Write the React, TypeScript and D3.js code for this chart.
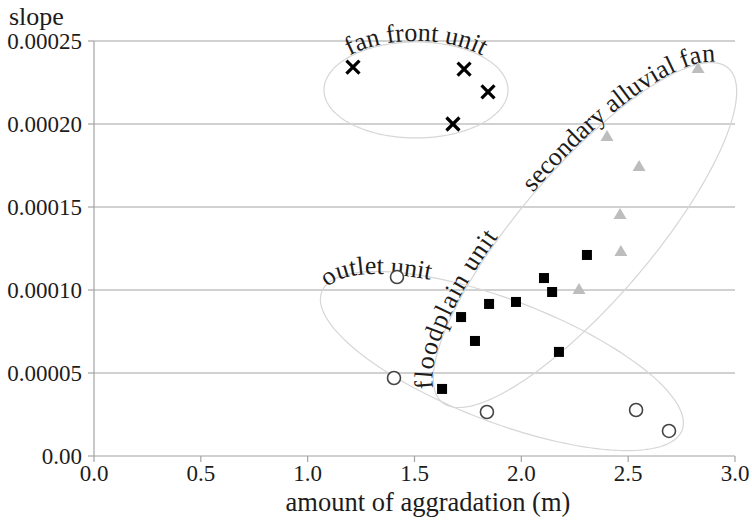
import React from "react";
import * as d3 from "d3";

// Axis ticks
const xTicks = [0, 0.5, 1.0, 1.5, 2.0, 2.5, 3.0];
const yTicks = [0, 0.00005, 0.0001, 0.00015, 0.0002, 0.00025];

// fan front unit (crosses)
const fanFrontX = [1.212, 1.732, 1.844, 1.68];
const fanFrontY = [0.0002343, 0.0002331, 0.0002193, 0.0002];

// secondary alluvial fan (grey triangles)
const secondaryX = [2.827, 2.401, 2.551, 2.462, 2.466, 2.27];
const secondaryY = [0.0002337, 0.0001928, 0.0001747, 0.0001458, 0.0001235, 0.0001006];

// floodplain unit (black squares)
const floodplainX = [2.307, 2.106, 2.144, 1.975, 1.849, 1.718, 1.783, 2.176, 1.629];
const floodplainY = [
  0.0001211, 0.0001072, 0.0000988, 0.0000928, 0.0000916, 0.0000837, 0.0000693, 0.0000627,
  0.0000404,
];

// outlet unit (open circles)
const outletX = [1.418, 1.404, 1.839, 2.537, 2.691];
const outletY = [0.0001078, 0.000047, 0.0000265, 0.0000277, 0.0000151];

// Grouping outlines: centre in data units, radii in px, rotation in degrees
const groupOutlines = [
  { id: "fan", cx: 1.507, cy: 0.0002205, a: 92, b: 48, rot: 0 },
  { id: "outlet", cx: 1.909, cy: 0.0000572, a: 193, b: 61, rot: 21 },
  { id: "secondary", cx: 2.298, cy: 0.0001331, a: 220, b: 66, rot: -49.4 },
];

const W = 752;
const H = 521;
const x = d3.scaleLinear().domain([0, 3]).range([94, 735]);
const y = d3.scaleLinear().domain([0, 0.00025]).range([456, 41]);

const FONT = '"Liberation Serif", "DejaVu Serif", "Times New Roman", serif';
const GRID = "#a3a3a3";
const OUTLINE = "#d6d6d6";
const INK = "#1c1c1c";
const txt = { fontFamily: FONT };
const LABEL_SIZE = 26;

function ellipsePath(
  cx: number,
  cy: number,
  a: number,
  b: number,
  rotDeg: number,
  t0: number,
  t1: number,
  closed = false
) {
  const th = (rotDeg * Math.PI) / 180;
  const ux = Math.cos(th), uy = Math.sin(th);
  const vx = -Math.sin(th), vy = Math.cos(th);
  const n = 160;
  const pts: [number, number][] = d3.range(n + 1).map((i) => {
    const t = t0 + ((t1 - t0) * i) / n;
    const ca = a * Math.cos(t), sb = b * Math.sin(t);
    return [cx + ca * ux + sb * vx, cy + ca * uy + sb * vy];
  });
  const line = d3.line().curve(closed ? d3.curveLinearClosed : d3.curveLinear);
  return line(closed ? pts.slice(0, n) : pts) as string;
}

export default function App() {
  const outlines = groupOutlines.map((g) => ({
    ...g,
    px: x(g.cx),
    py: y(g.cy),
  }));
  const byId = Object.fromEntries(outlines.map((o) => [o.id, o]));
  // label baselines follow the upper edge of each outline, shifted outward by `off` px
  const labelPath = (id: string, off: number) => {
    const o = byId[id];
    return ellipsePath(o.px, o.py, o.a + off, o.b + off, o.rot, Math.PI, 2 * Math.PI);
  };

  const xs = 6.5;
  return (
    <svg
      width={W}
      height={H}
      style={{ position: "absolute", left: 0, top: 0, background: "#fff" }}
    >
      <defs>
        <path id="lp-fan" d={labelPath("fan", 1)} fill="none" />
        <path id="lp-outlet" d={labelPath("outlet", -3)} fill="none" />
        <path id="lp-secondary" d={labelPath("secondary", 1)} fill="none" />
      </defs>

      {/* horizontal gridlines */}
      {yTicks.slice(1).map((t) => (
        <line key={t} x1={x(0)} x2={x(3)} y1={y(t)} y2={y(t)} stroke={GRID} strokeWidth={1.2} />
      ))}
      {/* axes */}
      <line x1={x(0)} x2={x(0)} y1={y(0.00025)} y2={y(0)} stroke={GRID} strokeWidth={1.2} />
      <line x1={x(0)} x2={x(3)} y1={y(0)} y2={y(0)} stroke={GRID} strokeWidth={1.2} />
      {yTicks.map((t) => (
        <g key={t}>
          <line x1={x(0) - 6} x2={x(0)} y1={y(t)} y2={y(t)} stroke={GRID} strokeWidth={1.2} />
          <text
            x={x(0) - 12}
            y={y(t)}
            dy="0.34em"
            textAnchor="end"
            fontSize={23}
            fill={INK}
            style={txt}
          >
            {t.toFixed(5) === "0.00000" ? "0.00" : t.toFixed(5)}
          </text>
        </g>
      ))}
      {xTicks.map((t) => (
        <g key={t}>
          <line x1={x(t)} x2={x(t)} y1={y(0)} y2={y(0) + 6} stroke={GRID} strokeWidth={1.2} />
          <text x={x(t)} y={481} textAnchor="middle" fontSize={23} fill={INK} style={txt}>
            {t.toFixed(1)}
          </text>
        </g>
      ))}
      <text x={9} y={25} fontSize={26} fill={INK} style={txt}>
        slope
      </text>
      <text x={428} y={510.5} textAnchor="middle" fontSize={26.5} fill={INK} style={txt}>
        amount of aggradation (m)
      </text>

      {/* group outlines */}
      {outlines.map((o) => (
        <path
          key={o.id}
          d={ellipsePath(o.px, o.py, o.a, o.b, o.rot, 0, 2 * Math.PI, true)}
          fill="none"
          stroke={OUTLINE}
          strokeWidth={1.2}
        />
      ))}

      {/* group labels */}
      <text fontSize={LABEL_SIZE} fill={INK} style={txt}>
        <textPath href="#lp-fan" startOffset="50%" textAnchor="middle">
          fan front unit
        </textPath>
      </text>
      <text fontSize={LABEL_SIZE} fill={INK} style={txt}>
        <textPath href="#lp-outlet" startOffset="1.5%">
          outlet unit
        </textPath>
      </text>
      <text fontSize={LABEL_SIZE} fill={INK} style={txt} letterSpacing={1}>
        <textPath href="#lp-secondary" startOffset="3.5%">
          floodplain unit
        </textPath>
      </text>
      <text fontSize={LABEL_SIZE} fill={INK} style={txt}>
        <textPath href="#lp-secondary" startOffset="97%" textAnchor="end">
          secondary alluvial fan
        </textPath>
      </text>

      {/* outlet unit */}
      {outletX.map((v, i) => (
        <circle
          key={`o${i}`}
          cx={x(v)}
          cy={y(outletY[i])}
          r={6.5}
          fill="#fff"
          stroke="#444"
          strokeWidth={1.6}
        />
      ))}
      {/* secondary alluvial fan */}
      {secondaryX.map((v, i) => {
        const cx = x(v), cy = y(secondaryY[i]);
        return (
          <polygon
            key={`s${i}`}
            points={`${cx},${cy - 6} ${cx + 6.5},${cy + 5} ${cx - 6.5},${cy + 5}`}
            fill="#bdbdbd"
          />
        );
      })}
      {/* floodplain unit */}
      {floodplainX.map((v, i) => (
        <rect key={`f${i}`} x={x(v) - 5} y={y(floodplainY[i]) - 5} width={10} height={10} fill="#000" />
      ))}
      {/* fan front unit */}
      {fanFrontX.map((v, i) => {
        const cx = x(v), cy = y(fanFrontY[i]);
        return (
          <g key={`x${i}`} stroke="#000" strokeWidth={3.2} strokeLinecap="butt">
            <line x1={cx - xs} y1={cy - xs} x2={cx + xs} y2={cy + xs} />
            <line x1={cx - xs} y1={cy + xs} x2={cx + xs} y2={cy - xs} />
          </g>
        );
      })}
    </svg>
  );
}
